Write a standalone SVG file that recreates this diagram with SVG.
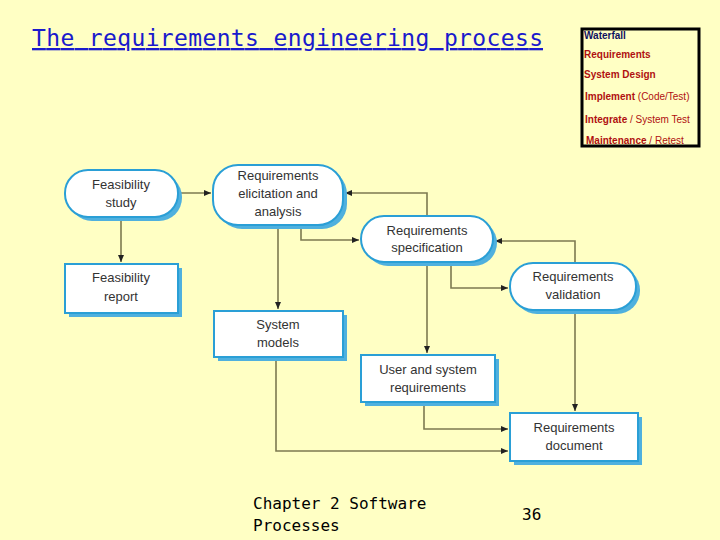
<svg xmlns="http://www.w3.org/2000/svg" width="720" height="540" viewBox="0 0 720 540">
<defs>
<marker id="ah" markerWidth="8" markerHeight="8" refX="7" refY="4" orient="auto" markerUnits="userSpaceOnUse"><path d="M0,1 L7,4 L0,7 Z" fill="#222"/></marker>
<style>
.sh{fill:#4fb0de}
.nd{fill:#fff;stroke:#2a9fd6;stroke-width:2}
.t{font-family:"Liberation Sans",Arial,sans-serif;font-size:13px;fill:#333;text-anchor:middle}
.c{fill:none;stroke:#7d7a50;stroke-width:1.6;marker-end:url(#ah)}
.w{font-family:"Liberation Sans",Arial,sans-serif;font-size:10px;font-weight:bold;fill:#b01010}
.f{font-family:"DejaVu Sans Mono",monospace;font-size:16px;fill:#000}
</style>
</defs>
<rect width="720" height="540" fill="#FFFFC4"/>
<text x="32" y="46" font-family="DejaVu Sans Mono,monospace" font-size="23" fill="#1a1acc" textLength="511" text-decoration="underline">The requirements engineering process</text>
<g id="waterfall">
<rect x="582" y="29" width="117" height="117" fill="#FFFFC4" stroke="#000" stroke-width="3"/>
<text class="w" x="584" y="39" fill="#101060" style="fill:#101060">Waterfall</text>
<text class="w" x="584" y="58">Requirements</text>
<text class="w" x="584" y="78">System Design</text>
<text class="w" x="585" y="100">Implement <tspan font-weight="normal">(Code/Test)</tspan></text>
<text class="w" x="585" y="123">Integrate <tspan font-weight="normal">/ System Test</tspan></text>
<text class="w" x="586" y="144">Maintenance <tspan font-weight="normal">/ Retest</tspan></text>
</g>
<g id="connectors">
<path class="c" d="M178,193 H211"/>
<path class="c" d="M427,216 V193 H345"/>
<path class="c" d="M121,217 V262"/>
<path class="c" d="M278,225 V309"/>
<path class="c" d="M301,225 V240 H359"/>
<path class="c" d="M427,262 V353"/>
<path class="c" d="M451,262 V288 H508"/>
<path class="c" d="M575,263 V241 H495"/>
<path class="c" d="M575,310 V411"/>
<path class="c" d="M424,402 V429 H508"/>
<path class="c" d="M276,357 V451 H508"/>
</g>
<g id="feasibility-study"><rect class="sh" x="69" y="174" width="113" height="47" rx="23"/><rect class="nd" x="65" y="170" width="113" height="47" rx="23"/><text class="t" x="121" y="189">Feasibility</text><text class="t" x="121" y="207">study</text></g>
<g id="elicitation"><rect class="sh" x="217" y="169" width="130" height="60" rx="25"/><rect class="nd" x="213" y="165" width="130" height="60" rx="25"/><text class="t" x="278" y="180">Requirements</text><text class="t" x="278" y="198">elicitation and</text><text class="t" x="278" y="216">analysis</text></g>
<g id="feasibility-report"><rect class="sh" x="69" y="268" width="113" height="49"/><rect class="nd" x="65" y="264" width="113" height="49"/><text class="t" x="121" y="282">Feasibility</text><text class="t" x="121" y="301">report</text></g>
<g id="system-models"><rect class="sh" x="218" y="315" width="129" height="46"/><rect class="nd" x="214" y="311" width="129" height="46"/><text class="t" x="278" y="329">System</text><text class="t" x="278" y="347">models</text></g>
<g id="specification"><rect class="sh" x="365" y="220" width="132" height="46" rx="23"/><rect class="nd" x="361" y="216" width="132" height="46" rx="23"/><text class="t" x="427" y="235">Requirements</text><text class="t" x="427" y="252">specification</text></g>
<g id="validation"><rect class="sh" x="514" y="267" width="126" height="47" rx="23"/><rect class="nd" x="510" y="263" width="126" height="47" rx="23"/><text class="t" x="573" y="281">Requirements</text><text class="t" x="573" y="299">validation</text></g>
<g id="user-system"><rect class="sh" x="365" y="359" width="134" height="47"/><rect class="nd" x="361" y="355" width="134" height="47"/><text class="t" x="428" y="374">User and system</text><text class="t" x="428" y="392">requirements</text></g>
<g id="document"><rect class="sh" x="514" y="417" width="128" height="48"/><rect class="nd" x="510" y="413" width="128" height="48"/><text class="t" x="574" y="432">Requirements</text><text class="t" x="574" y="450">document</text></g>
<text class="f" x="253" y="509">Chapter 2 Software</text>
<text class="f" x="253" y="531">Processes</text>
<text class="f" x="522" y="520">36</text>
</svg>
